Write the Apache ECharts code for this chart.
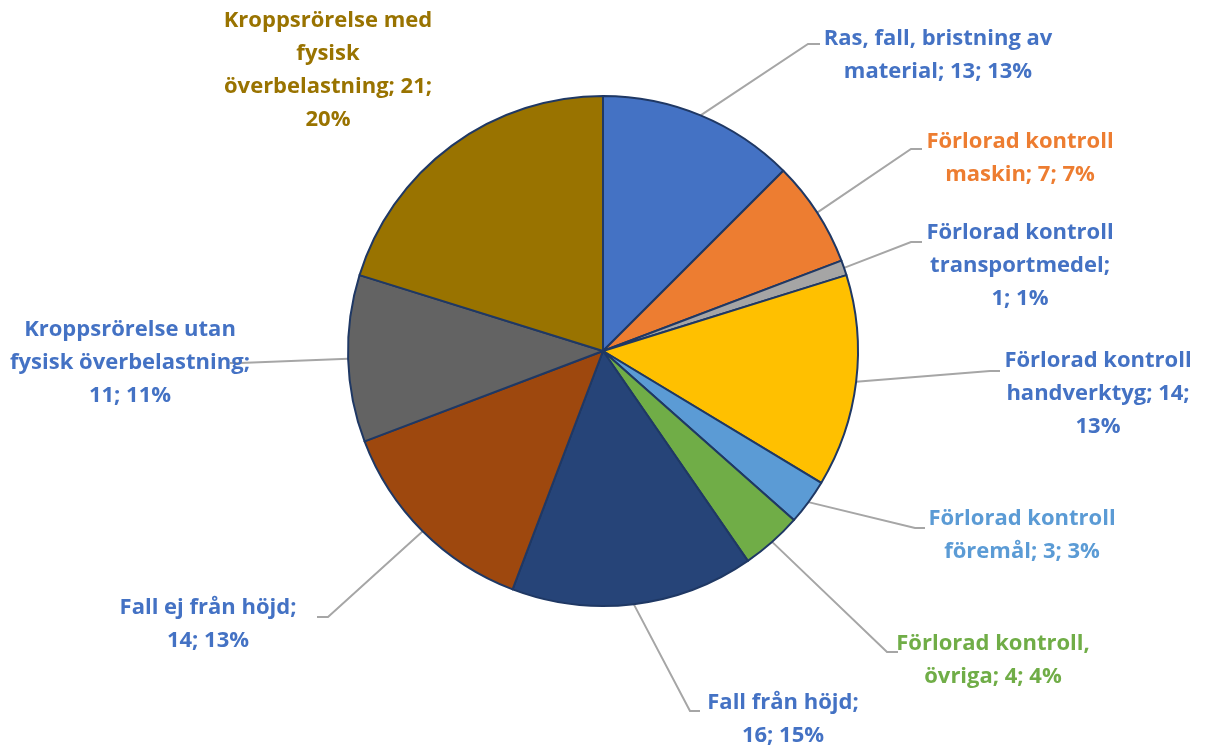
<!DOCTYPE html>
<html>
<head>
<meta charset="utf-8">
<script src="https://cdn.jsdelivr.net/npm/echarts@6/dist/echarts.min.js"></script>
<style>
  html, body { margin: 0; padding: 0; background: #fff; }
  #chart { width: 1206px; height: 751px; }
</style>
</head>
<body>
<div id="chart"></div>
<script>
// kategorier och antal
var categories = [
	'Ras, fall, bristning av material',
	'Förlorad kontroll maskin',
	'Förlorad kontroll transportmedel',
	'Förlorad kontroll handverktyg',
	'Förlorad kontroll föremål',
	'Förlorad kontroll, övriga',
	'Fall från höjd',
	'Fall ej från höjd',
	'Kroppsrörelse utan fysisk överbelastning',
	'Kroppsrörelse med fysisk överbelastning'
];
var counts = [13, 7, 1, 14, 3, 4, 16, 14, 11, 21];

var sliceColors = ['#4472C4', '#ED7D31', '#A5A5A5', '#FFC000', '#5B9BD5', '#70AD47', '#264478', '#9E480E', '#636363', '#997300'];
var textColors  = ['#4472C4', '#ED7D31', '#4472C4', '#4472C4', '#5B9BD5', '#70AD47', '#4472C4', '#4472C4', '#4472C4', '#997300'];

// layout: ord per rad, etikettens mitt, knäpunkt för linjen
var lineWords = [[4,3],[2,3],[2,1,2],[2,2,1],[2,3],[2,3],[3,2],[4,2],[2,2,2],[2,1,2,1]];
var labelCenter = [[938,55],[1020,158],[1020,266],[1098,394],[1022,535],[993,660],[783,719],[208,624],[130,363],[328,70]];
var elbow = [[808,44,820],[911,149,922],[911,242,922],[990,371,1000],[915,528,925],[887,652,898],[690,711,700],[328,617,317],[240,363,230],null];

var total = 0;
for (var i=0;i<counts.length;i++) total += counts[i];

function labelText(i) {
	var full = categories[i] + '; ' + counts[i] + '; ' + Math.round(counts[i]/total*100) + '%';
	var words = full.split(' ');
	var lines = [];
	var k = 0;
	for (var j=0;j<lineWords[i].length;j++) {
		lines.push(words.slice(k, k+lineWords[i][j]).join(' '));
		k += lineWords[i][j];
	}
	return lines.join('\n');
}

var pieData = [];
for (var i=0;i<categories.length;i++) {
	pieData.push({
		name: categories[i],
		value: counts[i],
		itemStyle: { color: sliceColors[i] },
		label: { color: textColors[i] },
		labelLine: { show: elbow[i] != null }
	});
}

var myChart = echarts.init(document.getElementById('chart'));
var option = {
	animation: false,
	series: [
		{
			type: 'pie',
			center: [603, 351],
			radius: 255,
			startAngle: 90,
			clockwise: true,
			avoidLabelOverlap: false,
			data: pieData,
			itemStyle: {
				borderColor: '#1F3864',
				borderWidth: 2
			},
			label: {
				show: true,
				position: 'outside',
				formatter: function (p) { return labelText(p.dataIndex); },
				fontFamily: 'Open Sans',
				fontWeight: 'bold',
				fontSize: 22,
				lineHeight: 33,
				align: 'center'
			},
			labelLine: {
				show: true,
				length: 20,
				length2: 10,
				lineStyle: { color: '#A6A6A6', width: 2 }
			},
			labelLayout: function (params) {
				var i = params.dataIndex;
				var res = {
					x: labelCenter[i][0],
					y: labelCenter[i][1],
					align: 'center',
					verticalAlign: 'middle'
				};
				if (elbow[i] && params.labelLinePoints) {
					var start = params.labelLinePoints[0];
					res.labelLinePoints = [
						[start[0], start[1]],
						[elbow[i][0], elbow[i][1]],
						[elbow[i][2], elbow[i][1]]
					];
				}
				return res;
			}
		}
	]
};
myChart.setOption(option);
</script>
</body>
</html>
